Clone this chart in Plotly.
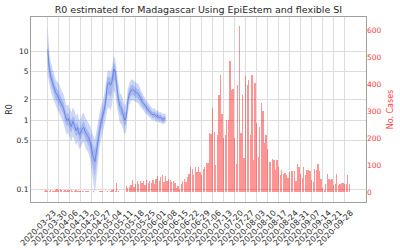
import pandas as pd
import plotly.graph_objects as go

# ---------------- data ----------------
case_start = "2020-03-21"
cases = [3, 7, 5, 4, 6, 3, 5, 7, 11, 9, 10, 6, 5, 7, 4, 8, 6, 7, 3, 5,
         6, 4, 4, 3, 5, 4, 2, 3, 4, 0, 1, 2, 0, 1, 0, 3, 2, 3, 0, 1,
         2, 1, 4, 8, 12, 5, 34, 3, 0, 0, 1, 0, 23, 14, 20, 25, 44, 20, 30, 42,
         28, 40, 32, 42, 26, 44, 35, 41, 35, 44, 28, 50, 59, 40, 57, 62, 38, 60, 40, 47,
         44, 38, 42, 34, 16, 22, 12, 28, 40, 47, 38, 57, 67, 94, 84, 63, 94, 75, 91, 75,
         63, 85, 94, 106, 108, 218, 215, 310, 223, 100, 210, 360, 433, 290, 200, 210, 265, 265, 485, 378,
         380, 200, 105, 396, 615, 218, 360, 125, 430, 396, 415, 210, 433, 118, 405, 254, 130, 240, 330, 300,
         180, 210, 160, 112, 112, 121, 119, 81, 119, 94, 63, 81, 65, 72, 63, 52, 75, 78, 78, 79,
         40, 104, 94, 65, 52, 92, 63, 81, 81, 78, 44, 36, 84, 81, 102, 79, 48, 14, 8, 30,
         67, 47, 45, 48, 25, 30, 65, 26, 30, 35, 34, 28, 30, 63, 30]

r0_start = "2020-03-23"
r0_mean = [10.5, 5.5, 4.2, 3.5, 3.0, 2.5, 2.3, 2.1, 1.85, 1.65, 1.5, 1.2, 1.0, 1.05, 0.9, 0.8,
           0.95, 0.85, 0.7, 0.78, 0.62, 0.65, 0.75, 0.78, 0.66, 0.6, 0.56, 0.48, 0.37, 0.29, 0.25, 0.35,
           0.55, 0.75, 0.95, 1.15, 1.4, 2.0, 3.3, 3.5, 3.2, 3.7, 5.5, 5.0, 3.2, 1.95, 1.56, 1.48,
           1.2, 1.0, 1.1, 1.9, 2.4, 2.7, 2.75, 2.65, 2.57, 2.5, 2.35, 2.1, 1.85, 1.74, 1.6, 1.5,
           1.4, 1.3, 1.25, 1.18, 1.22, 1.12, 1.16, 1.08, 1.1, 1.02, 1.04, 1.05]
r0_lo95 = [4.5, 3.2, 2.6, 2.2, 1.9, 1.6, 1.45, 1.3, 1.15, 1.02, 0.92, 0.74, 0.62, 0.65, 0.55, 0.49,
           0.58, 0.52, 0.43, 0.48, 0.38, 0.4, 0.46, 0.48, 0.4, 0.36, 0.33, 0.27, 0.19, 0.12, 0.085, 0.14,
           0.27, 0.4, 0.53, 0.66, 0.8, 1.05, 1.45, 1.55, 1.35, 1.7, 2.7, 2.4, 1.6, 1.1, 0.9, 0.86,
           0.72, 0.62, 0.68, 1.25, 1.65, 1.9, 1.95, 1.9, 1.85, 1.8, 1.72, 1.56, 1.42, 1.36, 1.26, 1.2,
           1.13, 1.06, 1.03, 0.98, 1.01, 0.93, 0.96, 0.9, 0.92, 0.86, 0.88, 0.89]
r0_hi95 = [23, 9.5, 6.8, 5.5, 4.7, 3.9, 3.6, 3.4, 2.95, 2.65, 2.4, 1.95, 1.6, 1.68, 1.45, 1.3,
           1.52, 1.38, 1.13, 1.26, 1.0, 1.05, 1.22, 1.26, 1.08, 0.98, 0.93, 0.83, 0.68, 0.58, 0.52, 0.68,
           0.98, 1.28, 1.58, 1.9, 2.35, 3.4, 5.0, 5.3, 4.9, 5.8, 8.6, 7.6, 5.0, 3.1, 2.45, 2.35,
           1.9, 1.6, 1.78, 2.85, 3.45, 3.8, 3.85, 3.7, 3.58, 3.45, 3.25, 2.85, 2.45, 2.25, 2.05, 1.9,
           1.75, 1.6, 1.53, 1.44, 1.48, 1.36, 1.4, 1.29, 1.31, 1.22, 1.24, 1.25]
r0_lo50 = [7.0, 4.3, 3.4, 2.85, 2.45, 2.05, 1.88, 1.7, 1.5, 1.35, 1.22, 0.97, 0.81, 0.85, 0.73, 0.65,
           0.77, 0.69, 0.57, 0.63, 0.5, 0.53, 0.61, 0.63, 0.53, 0.48, 0.44, 0.36, 0.27, 0.19, 0.15, 0.23,
           0.4, 0.56, 0.73, 0.9, 1.08, 1.45, 2.2, 2.4, 2.1, 2.55, 4.0, 3.5, 2.3, 1.5, 1.22, 1.15,
           0.95, 0.8, 0.88, 1.55, 2.0, 2.27, 2.32, 2.24, 2.18, 2.12, 2.0, 1.8, 1.6, 1.52, 1.41, 1.33,
           1.25, 1.17, 1.13, 1.07, 1.1, 1.01, 1.05, 0.98, 1.0, 0.93, 0.95, 0.96]
r0_hi50 = [16, 7.2, 5.3, 4.35, 3.7, 3.05, 2.8, 2.6, 2.25, 2.0, 1.83, 1.47, 1.22, 1.28, 1.1, 0.98,
           1.16, 1.04, 0.85, 0.95, 0.76, 0.79, 0.92, 0.95, 0.81, 0.74, 0.69, 0.61, 0.49, 0.41, 0.37, 0.49,
           0.73, 0.97, 1.21, 1.45, 1.8, 2.6, 4.1, 4.3, 4.0, 4.6, 6.8, 6.1, 4.0, 2.4, 1.93, 1.83,
           1.48, 1.25, 1.36, 2.3, 2.85, 3.18, 3.22, 3.1, 3.0, 2.9, 2.72, 2.43, 2.12, 1.98, 1.8, 1.68,
           1.56, 1.44, 1.38, 1.3, 1.34, 1.23, 1.27, 1.18, 1.2, 1.11, 1.13, 1.14]

tick_labels = ["2020-03-23", "2020-03-30", "2020-04-06", "2020-04-13", "2020-04-20",
               "2020-04-27", "2020-05-04", "2020-05-11", "2020-05-18", "2020-05-25",
               "2020-06-01", "2020-06-08", "2020-06-15", "2020-06-22", "2020-06-29",
               "2020-07-06", "2020-07-13", "2020-07-20", "2020-07-27", "2020-08-03",
               "2020-08-10", "2020-08-17", "2020-08-24", "2020-08-31", "2020-09-07",
               "2020-09-14", "2020-09-21", "2020-09-28"]
r0_ticks = [0.1, 0.5, 1, 2, 5, 10]
r0_tick_text = ["0.1", "0.5", "1", "2", "5", "10"]
case_ticks = [0, 100, 200, 300, 400, 500, 600]

# ---------------- figure ----------------
case_dates = pd.date_range(case_start, periods=len(cases), freq="D")
r0_dates = pd.date_range(r0_start, periods=len(r0_mean), freq="D")

BAND = "rgba(65,105,225,0.27)"
FONT = "DejaVu Sans"
TXT = "#262626"
RED = "#ff3b3b"

fig = go.Figure()

fig.add_trace(go.Scatter(x=r0_dates, y=r0_lo95, mode="lines", line=dict(width=0),
                         showlegend=False, hoverinfo="skip"))
fig.add_trace(go.Scatter(x=r0_dates, y=r0_hi95, mode="lines", line=dict(width=0),
                         fill="tonexty", fillcolor=BAND, showlegend=False, hoverinfo="skip"))
fig.add_trace(go.Scatter(x=r0_dates, y=r0_lo50, mode="lines", line=dict(width=0),
                         showlegend=False, hoverinfo="skip"))
fig.add_trace(go.Scatter(x=r0_dates, y=r0_hi50, mode="lines", line=dict(width=0),
                         fill="tonexty", fillcolor=BAND, showlegend=False, hoverinfo="skip"))
fig.add_trace(go.Scatter(x=r0_dates, y=r0_mean, mode="lines",
                         line=dict(color="rgba(65,105,225,0.6)", width=1), showlegend=False))

fig.add_trace(go.Bar(x=case_dates, y=cases, yaxis="y2", width=0.8 * 86400000,
                     marker=dict(color="rgba(255,0,0,0.42)", line=dict(width=0)),
                     showlegend=False))

fig.update_layout(
    width=400, height=250,
    margin=dict(l=31, r=34, t=17, b=48),
    paper_bgcolor="white", plot_bgcolor="white",
    font=dict(family=FONT, size=7.5, color=TXT),
    title=dict(text="R0 estimated for Madagascar Using EpiEstem and flexible SI",
               x=0.496, xanchor="center", y=0.975, yanchor="top",
               font=dict(family=FONT, size=9.5, color=TXT)),
    bargap=0,
    xaxis=dict(
        type="date", automargin=False,
        range=["2020-03-12 09:00", "2020-10-11 14:00"],
        tickmode="array", tickvals=tick_labels, ticktext=tick_labels,
        tickangle=-45, tickfont=dict(size=8, color=TXT), ticklabelshift=6,
        showgrid=True, gridcolor="#dcdcdc", gridwidth=1,
        showline=True, linecolor="#a0a0a0", linewidth=1, mirror=True,
        ticks="outside", ticklen=2, tickcolor="rgba(0,0,0,0)", zeroline=False,
    ),
    yaxis=dict(
        type="log", range=[-1.188, 1.493], automargin=False,
        tickmode="array", tickvals=r0_ticks, ticktext=r0_tick_text,
        tickfont=dict(size=7.5, color=TXT),
        showgrid=True, gridcolor="#dcdcdc", gridwidth=1,
        showline=True, linecolor="#a0a0a0", linewidth=1, mirror=True,
        ticks="", zeroline=False,
        title=dict(text="R0", font=dict(size=8, color=TXT), standoff=2),
    ),
    yaxis2=dict(
        overlaying="y", side="right", range=[-37, 648], automargin=False,
        tickmode="array", tickvals=case_ticks,
        tickfont=dict(size=7.5, color=RED),
        showgrid=False, zeroline=False, ticks="",
        title=dict(text="No. Cases", font=dict(size=8, color=RED), standoff=6),
    ),
)

fig.write_html("out.html")
